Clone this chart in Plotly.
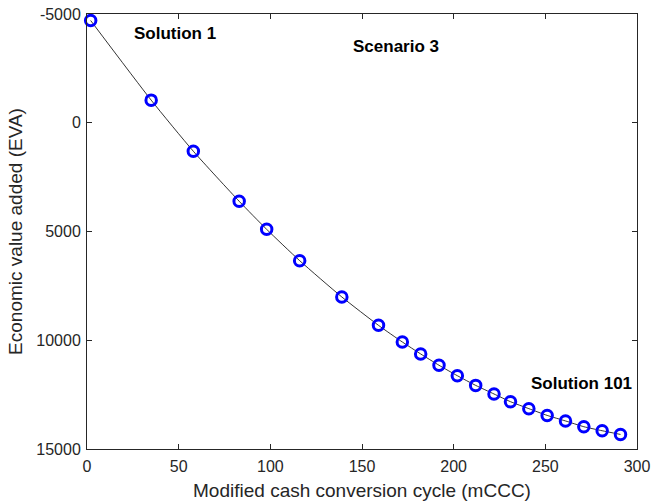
import plotly.graph_objects as go

# Pareto front solutions: modified cash conversion cycle vs. economic value added
mccc = [2, 35, 58, 83, 98, 116, 139, 159, 172, 182, 192, 202, 212, 222, 231,
        241, 251, 261, 271, 281, 291]
eva = [-4700, -1040, 1310, 3610, 4900, 6340, 8010, 9315, 10080, 10630, 11150,
       11630, 12075, 12470, 12825, 13145, 13455, 13710, 13975, 14160, 14330]

x_ticks = [0, 50, 100, 150, 200, 250, 300]
y_ticks = [-5000, 0, 5000, 10000, 15000]
y_tick_text = ["-5000", "0", "5000", "10000", "15000"]

axis_color = "#262626"
font_family = "Liberation Sans, Arial, sans-serif"

fig = go.Figure()
fig.add_trace(go.Scatter(
    x=mccc, y=eva,
    mode="lines+markers",
    line=dict(color="black", width=0.8, shape="spline", smoothing=0.6),
    marker=dict(symbol="circle-open", size=10.5, color="#0000ff",
                line=dict(color="#0000ff", width=3)),
    showlegend=False,
    cliponaxis=False,
))

annotations = [
    ("Solution 1", 48, -4100),
    ("Scenario 3", 168.5, -3500),
    ("Solution 101", 269.5, 12000),
]
for text, ax_x, ax_y in annotations:
    fig.add_annotation(x=ax_x, y=ax_y, text=f"<b>{text}</b>", showarrow=False,
                       font=dict(family=font_family, size=17, color="black"))

common = dict(
    showgrid=False, zeroline=False, showline=True, linecolor=axis_color,
    linewidth=1, mirror="ticks", ticks="inside", ticklen=5, tickcolor=axis_color,
    tickfont=dict(family=font_family, size=16, color=axis_color),
    automargin=False,
)

fig.update_xaxes(range=[0, 300], tickvals=x_ticks,
                 ticklabelstandoff=3,
                 title=dict(text="Modified cash conversion cycle (mCCC)",
                            font=dict(family=font_family, size=19, color=axis_color),
                            standoff=9),
                 **common)
fig.update_yaxes(range=[15000, -5000], tickvals=y_ticks, ticktext=y_tick_text,
                 ticklabelstandoff=2,
                 title=dict(text="Economic value added (EVA)",
                            font=dict(family=font_family, size=19, color=axis_color),
                            standoff=8),
                 **common)

fig.update_layout(
    width=651, height=504,
    margin=dict(l=87, r=14, t=14, b=55),
    paper_bgcolor="white", plot_bgcolor="white",
)

fig.write_html("out.html")
